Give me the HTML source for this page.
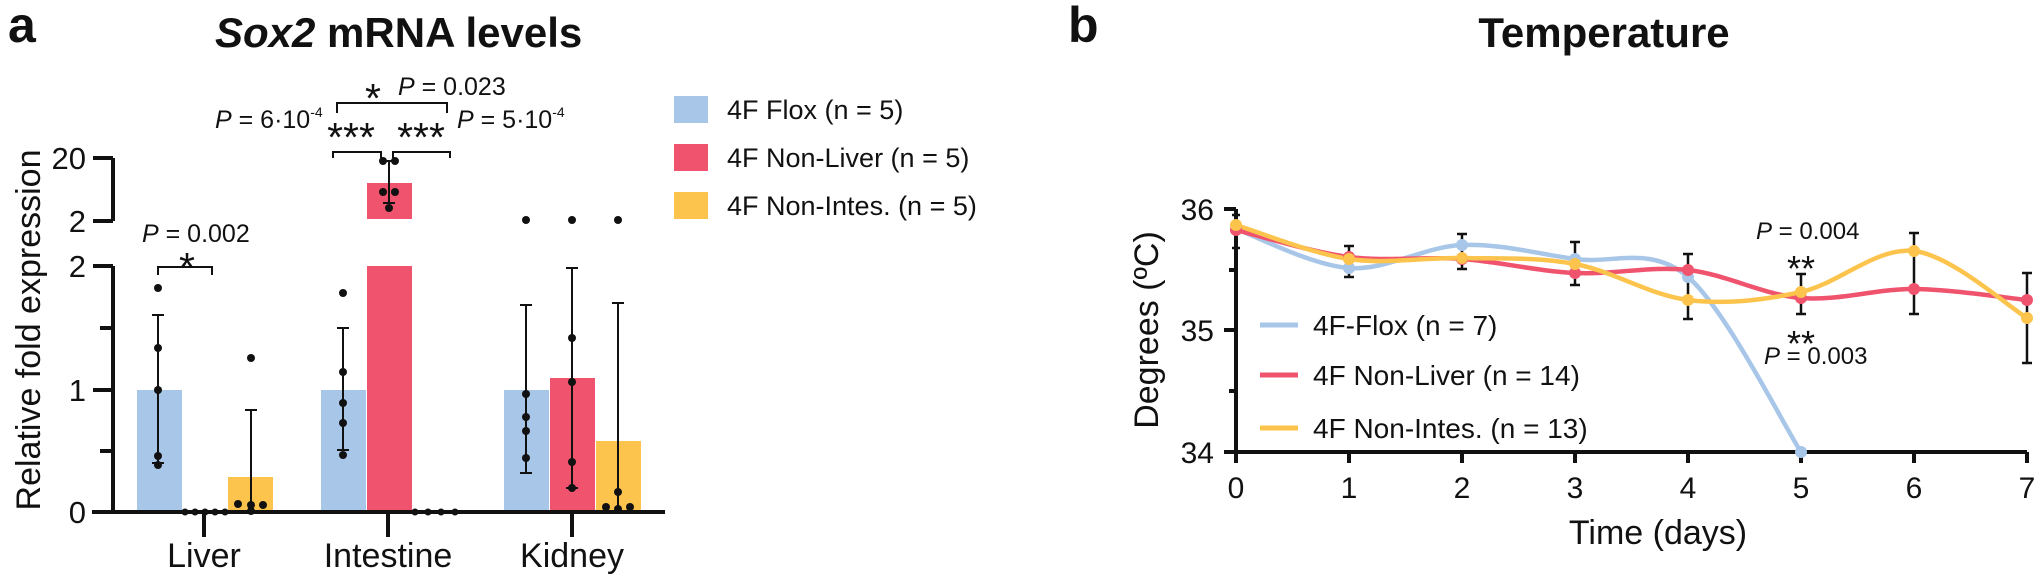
<!DOCTYPE html>
<html><head><meta charset="utf-8"><style>
html,body{margin:0;padding:0;background:#fff;}
svg{display:block;}
text{font-family:"Liberation Sans",Arial,sans-serif;fill:#111;}
</style></head><body>
<svg width="2038" height="577" viewBox="0 0 2038 577" xmlns="http://www.w3.org/2000/svg">
<!-- Panel a -->
<text x="8" y="42" font-size="50" font-weight="bold">a</text>
<text x="215" y="47" font-size="42" font-weight="bold"><tspan font-style="italic">Sox2</tspan> mRNA levels</text>

<g>
<rect x="137" y="390" width="45" height="122" fill="#a7c6e8"/>
<rect x="228" y="477" width="45" height="35" fill="#fcc44d"/>
<rect x="321" y="390" width="45" height="122" fill="#a7c6e8"/>
<rect x="367" y="266" width="45" height="246" fill="#f0536d"/>
<rect x="367" y="183" width="45" height="36" fill="#f0536d"/>
<rect x="504" y="390" width="45" height="122" fill="#a7c6e8"/>
<rect x="550" y="378" width="45" height="134" fill="#f0536d"/>
<rect x="596" y="441" width="45" height="71" fill="#fcc44d"/>
</g>
<g stroke="#111" stroke-width="2" fill="none">
<path d="M158 315V463M152 315H164M152 463H164"/>
<path d="M251 410V512M245 410H257"/>
<path d="M343 328V450M337 328H349M337 450H349"/>
<path d="M389 161V203M383 161H395M383 203H395"/>
<path d="M526 305V473M520 305H532M520 473H532"/>
<path d="M572 268V488M566 268H578M566 488H578"/>
<path d="M618 303V509M612 303H624"/>
</g>
<g fill="#111">
<circle cx="158" cy="288" r="4"/><circle cx="158" cy="348" r="4"/><circle cx="158" cy="390" r="4"/><circle cx="158" cy="456" r="4"/><circle cx="158" cy="465" r="4"/>
<circle cx="185" cy="512" r="3.5"/><circle cx="195" cy="512" r="3.5"/><circle cx="205" cy="512" r="3.5"/><circle cx="215" cy="512" r="3.5"/><circle cx="225" cy="512" r="3.5"/>
<circle cx="251" cy="358" r="4"/><circle cx="238" cy="504" r="4"/><circle cx="251" cy="505" r="4"/><circle cx="263" cy="505" r="4"/><circle cx="251" cy="511" r="4"/>
<circle cx="343" cy="293" r="4"/><circle cx="343" cy="372" r="4"/><circle cx="343" cy="403" r="4"/><circle cx="343" cy="423" r="4"/><circle cx="343" cy="455" r="4"/>
<circle cx="383" cy="161" r="4"/><circle cx="395" cy="161" r="4"/><circle cx="383" cy="192" r="4"/><circle cx="395" cy="192" r="4"/><circle cx="389" cy="208" r="4"/>
<circle cx="415" cy="512" r="3.5"/><circle cx="428" cy="512" r="3.5"/><circle cx="441" cy="512" r="3.5"/><circle cx="455" cy="512" r="3.5"/>
<circle cx="526" cy="220" r="4"/><circle cx="526" cy="394" r="4"/><circle cx="526" cy="417" r="4"/><circle cx="526" cy="431" r="4"/><circle cx="526" cy="458" r="4"/>
<circle cx="572" cy="220" r="4"/><circle cx="572" cy="338" r="4"/><circle cx="572" cy="382" r="4"/><circle cx="572" cy="462" r="4"/><circle cx="572" cy="488" r="4"/>
<circle cx="618" cy="220" r="4"/><circle cx="618" cy="492" r="4"/><circle cx="606" cy="507" r="4"/><circle cx="630" cy="507" r="4"/><circle cx="618" cy="509" r="4"/>
</g>
<g stroke="#111" stroke-width="4" fill="none">
<path d="M113 266V512"/>
<path d="M92 512H665"/>
<path d="M93 266H113M93 390H113M100 451H113M100 328H113"/>
<path d="M113 158V221M93 158H113M93 221H113"/>
<path d="M204 512V537M388 512V537M572 512V537"/>
</g>
<g font-size="31" text-anchor="end">
<text x="86" y="169">20</text>
<text x="86" y="232">2</text>
<text x="86" y="277">2</text>
<text x="86" y="401">1</text>
<text x="86" y="523">0</text>
</g>
<text transform="translate(40,330) rotate(-90)" font-size="34" text-anchor="middle">Relative fold expression</text>
<g font-size="34" text-anchor="middle">
<text x="204" y="567">Liver</text>
<text x="388" y="567">Intestine</text>
<text x="572" y="567">Kidney</text>
</g>
<g stroke="#111" stroke-width="2" fill="none">
<path d="M158 275V267H212V275"/>
<path d="M337 113V103H447V113"/>
<path d="M333 158V152H381V158"/>
<path d="M393 158V152H450V158"/>
</g>
<g font-size="25">
<text x="142" y="242"><tspan font-style="italic">P</tspan> = 0.002</text>
<text x="187" y="281" font-size="41" text-anchor="middle">*</text>
<text x="373" y="112" font-size="41" text-anchor="middle">*</text>
<text x="398" y="95"><tspan font-style="italic">P</tspan> = 0.023</text>
<text x="215" y="128"><tspan font-style="italic">P</tspan> = 6·10<tspan font-size="14" dy="-11">-4</tspan></text>
<text x="351" y="151" font-size="41" text-anchor="middle">***</text>
<text x="421" y="151" font-size="41" text-anchor="middle">***</text>
<text x="457" y="128"><tspan font-style="italic">P</tspan> = 5·10<tspan font-size="14" dy="-11">-4</tspan></text>
</g>
<rect x="674" y="96" width="34" height="27" fill="#a7c6e8"/>
<rect x="674" y="144" width="34" height="27" fill="#f0536d"/>
<rect x="674" y="192" width="34" height="27" fill="#fcc44d"/>
<g font-size="27">
<text x="727" y="119">4F Flox (n = 5)</text>
<text x="727" y="167">4F Non-Liver (n = 5)</text>
<text x="727" y="215">4F Non-Intes. (n = 5)</text>
</g>

<!-- Panel b -->
<text x="1068" y="42" font-size="50" font-weight="bold">b</text>
<text x="1604" y="47" font-size="42" font-weight="bold" text-anchor="middle">Temperature</text>

<g stroke="#111" stroke-width="4" fill="none">
<path d="M1236 209V452H2027"/>
<path d="M1224 209H1236M1224 330H1236M1224 452H1236M1229 270H1236M1229 391H1236"/>
<path d="M1236 452V463M1349 452V463M1462 452V463M1575 452V463M1688 452V463M1801 452V463M1914 452V463M2027 452V463"/>
</g>
<g font-size="30" text-anchor="end">
<text x="1214" y="220">36</text>
<text x="1214" y="341">35</text>
<text x="1214" y="463">34</text>
</g>
<g font-size="30" text-anchor="middle">
<text x="1236" y="498">0</text><text x="1349" y="498">1</text><text x="1462" y="498">2</text><text x="1575" y="498">3</text>
<text x="1688" y="498">4</text><text x="1801" y="498">5</text><text x="1914" y="498">6</text><text x="2027" y="498">7</text>
</g>
<text transform="translate(1158,330) rotate(-90)" font-size="34" text-anchor="middle">Degrees (ºC)</text>
<text x="1658" y="544" font-size="34" text-anchor="middle">Time (days)</text>

<g stroke="#111" stroke-width="2.5" fill="none">
<path d="M1236 215V248M1232 215H1240M1232 248H1240"/>
<path d="M1349 246V277M1344 246H1354M1344 277H1354"/>
<path d="M1462 234V269M1457 234H1467M1457 269H1467"/>
<path d="M1575 242V285M1570 242H1580M1570 285H1580"/>
<path d="M1688 254V319M1683 254H1693M1683 319H1693"/>
<path d="M1801 274V314M1796 274H1806M1796 314H1806"/>
<path d="M1914 233V314M1909 233H1919M1909 314H1919"/>
<path d="M2027 273V363M2022 273H2032M2022 363H2032"/>
</g>

<g fill="none" stroke-width="4.5" stroke-linecap="round">
<path stroke="#a7c6e8" d="M1236 229C1254.8 235.5 1311.3 265.3 1349 268C1386.7 270.7 1424.3 246.5 1462 245C1499.7 243.5 1537.3 253.7 1575 259C1612.7 264.3 1650.3 244.8 1688 277C1725.7 309.2 1782.2 422.8 1801 452"/>
<path stroke="#f0536d" d="M1236 230C1254.8 234.5 1311.3 252.2 1349 257C1386.7 261.8 1424.3 256.3 1462 259C1499.7 261.7 1537.3 271.2 1575 273C1612.7 274.8 1650.3 265.8 1688 270C1725.7 274.2 1763.3 294.8 1801 298C1838.7 301.2 1876.3 288.7 1914 289C1951.7 289.3 2008.2 298.2 2027 300"/>
<path stroke="#fcc44d" d="M1236 225C1254.8 230.7 1311.3 253.5 1349 259C1386.7 264.5 1424.3 257.2 1462 258C1499.7 258.8 1537.3 257 1575 264C1612.7 271 1650.3 295.3 1688 300C1725.7 304.7 1763.3 300.2 1801 292C1838.7 283.8 1876.3 246.7 1914 251C1951.7 255.3 2008.2 306.8 2027 318"/>
</g>
<g fill="#a7c6e8">
<circle cx="1236" cy="229" r="6"/><circle cx="1349" cy="268" r="6"/><circle cx="1462" cy="245" r="6"/><circle cx="1575" cy="259" r="6"/><circle cx="1688" cy="277" r="6"/><circle cx="1801" cy="452" r="6"/>
</g>
<g fill="#f0536d">
<circle cx="1236" cy="230" r="6"/><circle cx="1349" cy="257" r="6"/><circle cx="1462" cy="259" r="6"/><circle cx="1575" cy="273" r="6"/><circle cx="1688" cy="270" r="6"/><circle cx="1801" cy="298" r="6"/><circle cx="1914" cy="289" r="6"/><circle cx="2027" cy="300" r="6"/>
</g>
<g fill="#fcc44d">
<circle cx="1236" cy="225" r="6"/><circle cx="1349" cy="259" r="6"/><circle cx="1462" cy="258" r="6"/><circle cx="1575" cy="264" r="6"/><circle cx="1688" cy="300" r="6"/><circle cx="1801" cy="292" r="6"/><circle cx="1914" cy="251" r="6"/><circle cx="2027" cy="318" r="6"/>
</g>

<g font-size="24">
<text x="1756" y="239"><tspan font-style="italic">P</tspan> = 0.004</text>
<text x="1801" y="281" font-size="36" text-anchor="middle">**</text>
<text x="1801" y="356" font-size="36" text-anchor="middle">**</text>
<text x="1764" y="364"><tspan font-style="italic">P</tspan> = 0.003</text>
</g>

<g stroke-width="5">
<path d="M1260 325H1298" stroke="#a7c6e8"/>
<path d="M1260 375H1298" stroke="#f0536d"/>
<path d="M1260 428H1298" stroke="#fcc44d"/>
</g>
<g font-size="28">
<text x="1313" y="335">4F-Flox (n = 7)</text>
<text x="1313" y="385">4F Non-Liver (n = 14)</text>
<text x="1313" y="438">4F Non-Intes. (n = 13)</text>
</g>
</svg>
</body></html>
